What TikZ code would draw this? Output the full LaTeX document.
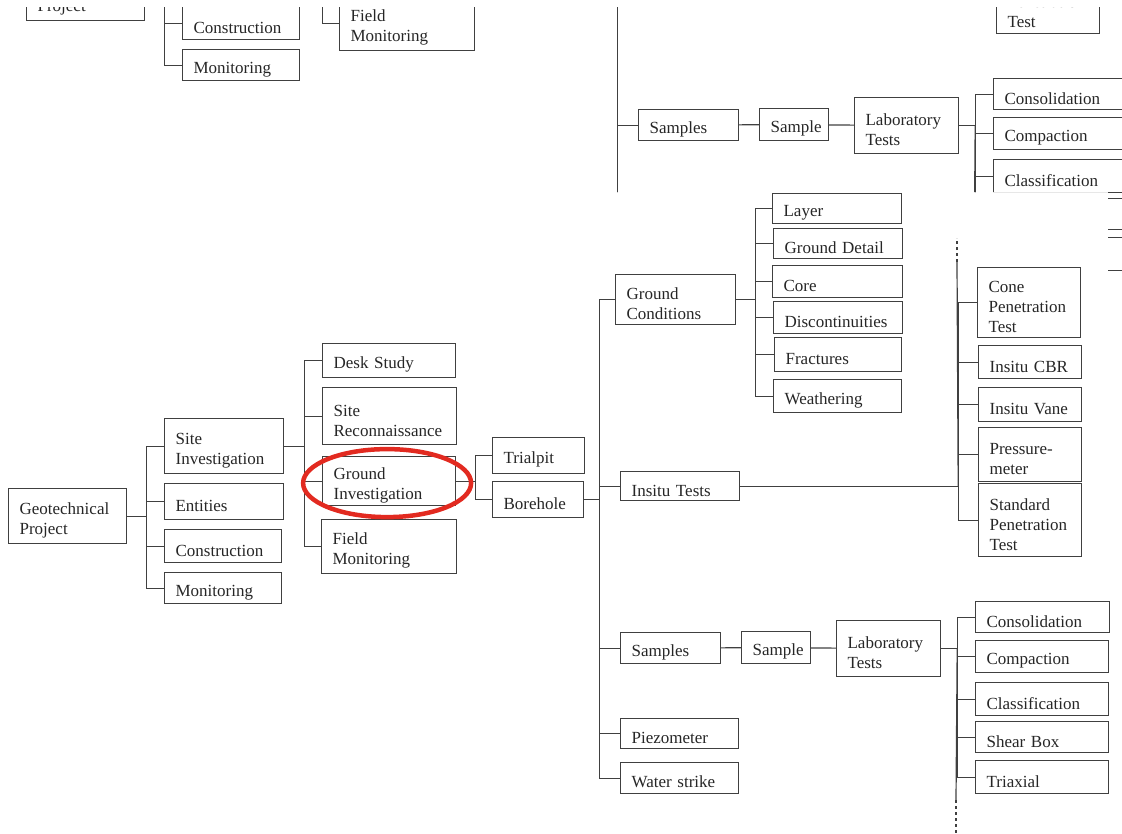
\documentclass[tikz,border=0pt]{standalone}
\usepackage{fontspec}
\setmainfont{Liberation Serif}

\definecolor{ringred}{RGB}{226,42,32}

\tikzset{
  gbox/.style 2 args={draw=black!75, line width=1.2, anchor=north west,
    minimum width=#1, minimum height=#2, text width=#1-22,
    inner xsep=11, inner ysep=2, align=left, text=black!85,
    font=\fontsize{17}{20}\selectfont,
    execute at begin node={\rule{0pt}{20pt}}},
  link/.style={draw=black!75, line width=1.2}
}

% the whole tree, #1 = prefix for the node names
\newcommand{\geotree}[1]{%
  % project and its branches
  \node[gbox={118}{55}] (#1gp) at (8,488) {Geotechnical\\Project};
  \node[gbox={119}{55}] (#1si) at (164,418) {Site\\Investigation};
  \node[gbox={119}{36}] (#1ent) at (164,483) {Entities};
  \node[gbox={117}{33}] (#1con) at (164,529) {Construction};
  \node[gbox={117}{31}] (#1mon) at (164,572) {Monitoring};

  % site investigation
  \node[gbox={133}{34}] (#1ds) at (322,343) {Desk Study};
  \node[gbox={134}{57}] (#1sr) at (322,387) {Site\\Reconnaissance};
  \node[gbox={133}{49}] (#1gi) at (322,456) {Ground\\Investigation};
  \node[gbox={135}{54}] (#1fm) at (321,519) {Field\\Monitoring};

  % ground investigation
  \node[gbox={92}{36}] (#1tp) at (492,437) {Trialpit};
  \node[gbox={91}{36}] (#1bh) at (492,481) {Borehole};

  % borehole
  \node[gbox={120}{50}] (#1gc) at (615,274) {Ground\\Conditions};
  \node[gbox={119}{29}] (#1it) at (620,471) {Insitu Tests};
  \node[gbox={100}{31}] (#1smp) at (620,632) {Samples};
  \node[gbox={118}{30}] (#1pz) at (620,718) {Piezometer};
  \node[gbox={118}{31}] (#1ws) at (620,762) {Water strike};

  % ground conditions
  \node[gbox={129}{30}] (#1lay) at (772,193) {Layer};
  \node[gbox={129}{30}] (#1gd) at (773,228) {Ground Detail};
  \node[gbox={130}{32}] (#1core) at (772,265) {Core};
  \node[gbox={129}{32}] (#1disc) at (773,301) {Discontinuities};
  \node[gbox={127}{34}] (#1frac) at (774,337) {Fractures};
  \node[gbox={128}{33}] (#1wea) at (773,379) {Weathering};

  % insitu tests
  \node[gbox={103}{70}] (#1cpt) at (977,267) {Cone\\Penetration\\Test};
  \node[gbox={103}{33}] (#1cbr) at (978,345) {Insitu CBR};
  \node[gbox={103}{34}] (#1vane) at (978,387) {Insitu Vane};
  \node[gbox={103}{54}] (#1pm) at (978,427) {Pressure-\\meter};
  \node[gbox={103}{73}] (#1spt) at (978,483) {Standard\\Penetration\\Test};

  % samples
  \node[gbox={69}{32}] (#1sa) at (741,631) {Sample};
  \node[gbox={104}{56}] (#1lt) at (836,620) {Laboratory\\Tests};
  \node[gbox={134}{31}] (#1cons) at (975,601) {Consolidation};
  \node[gbox={133}{32}] (#1comp) at (975,640) {Compaction};
  \node[gbox={133}{33}] (#1cls) at (975,682) {Classification};
  \node[gbox={133}{31}] (#1sb) at (975,721) {Shear Box};
  \node[gbox={133}{33}] (#1tri) at (975,760) {Triaxial};

  % connectors
  \draw[link] (#1gp.east) -- ++(19,0) coordinate (#1t1);
  \foreach \c in {si,ent,con,mon} \draw[link] (#1t1) |- (#1\c.west);
  \draw[link] (#1si.east) -- ++(20,0) coordinate (#1t2);
  \foreach \c in {ds,sr,gi,fm} \draw[link] (#1t2) |- (#1\c.west);
  \draw[link] (#1gi.east) -- ++(19,0) coordinate (#1t3);
  \foreach \c in {tp,bh} \draw[link] (#1t3) |- (#1\c.west);
  \draw[link] (#1bh.east) -- ++(15,0) coordinate (#1t4);
  \foreach \c in {gc,it,smp,pz,ws} \draw[link] (#1t4) |- (#1\c.west);
  \draw[link] (#1gc.east) -- ++(19,0) coordinate (#1t5);
  \foreach \c in {lay,gd,core,disc,frac,wea} \draw[link] (#1t5) |- (#1\c.west);
  \draw[link] (#1it.east) -- ++(218,0) coordinate (#1t6);
  \foreach \c in {cpt,cbr,vane,pm,spt} \draw[link] (#1t6) |- (#1\c.west);
  \draw[link] (#1smp) -- (#1sa);
  \draw[link] (#1sa) -- (#1lt);
  \draw[link] (#1lt.east) -- ++(16,0) coordinate (#1t7);
  \foreach \c in {cons,comp,cls,sb,tri} \draw[link] (#1t7) |- (#1\c.west);

  % trunks running on past the page
  \coordinate (#1up1) at (957,262);
  \coordinate (#1up2) at (957,238);
  \draw[link] (#1t6) -- (#1up1);
  \draw[link, dashed] (#1up1) -- (#1up2);
  \coordinate (#1dn1) at (956,800);
  \coordinate (#1dn2) at (956,833);
  \draw[link] (#1t7) -- (#1dn1);
  \draw[link, dashed] (#1dn1) -- (#1dn2);
}

\begin{document}
\begin{tikzpicture}[x=1pt, y=-1pt]
  \useasboundingbox (0,0) rectangle (1122,833);

  % second copy of the page, scrolled up
  \begin{scope}
    \clip (0,7) rectangle (1122,192) (1108,192) rectangle (1122,280);
    \begin{scope}[shift={(18,-523)}]
      \geotree{t}
    \end{scope}
  \end{scope}

  % main tree
  \geotree{}

  % ring round ground investigation
  \draw[ringred, line width=4.5] ([shift={(-2,2)}]gi.center) ellipse [x radius=84, y radius=34];
\end{tikzpicture}
\end{document}
